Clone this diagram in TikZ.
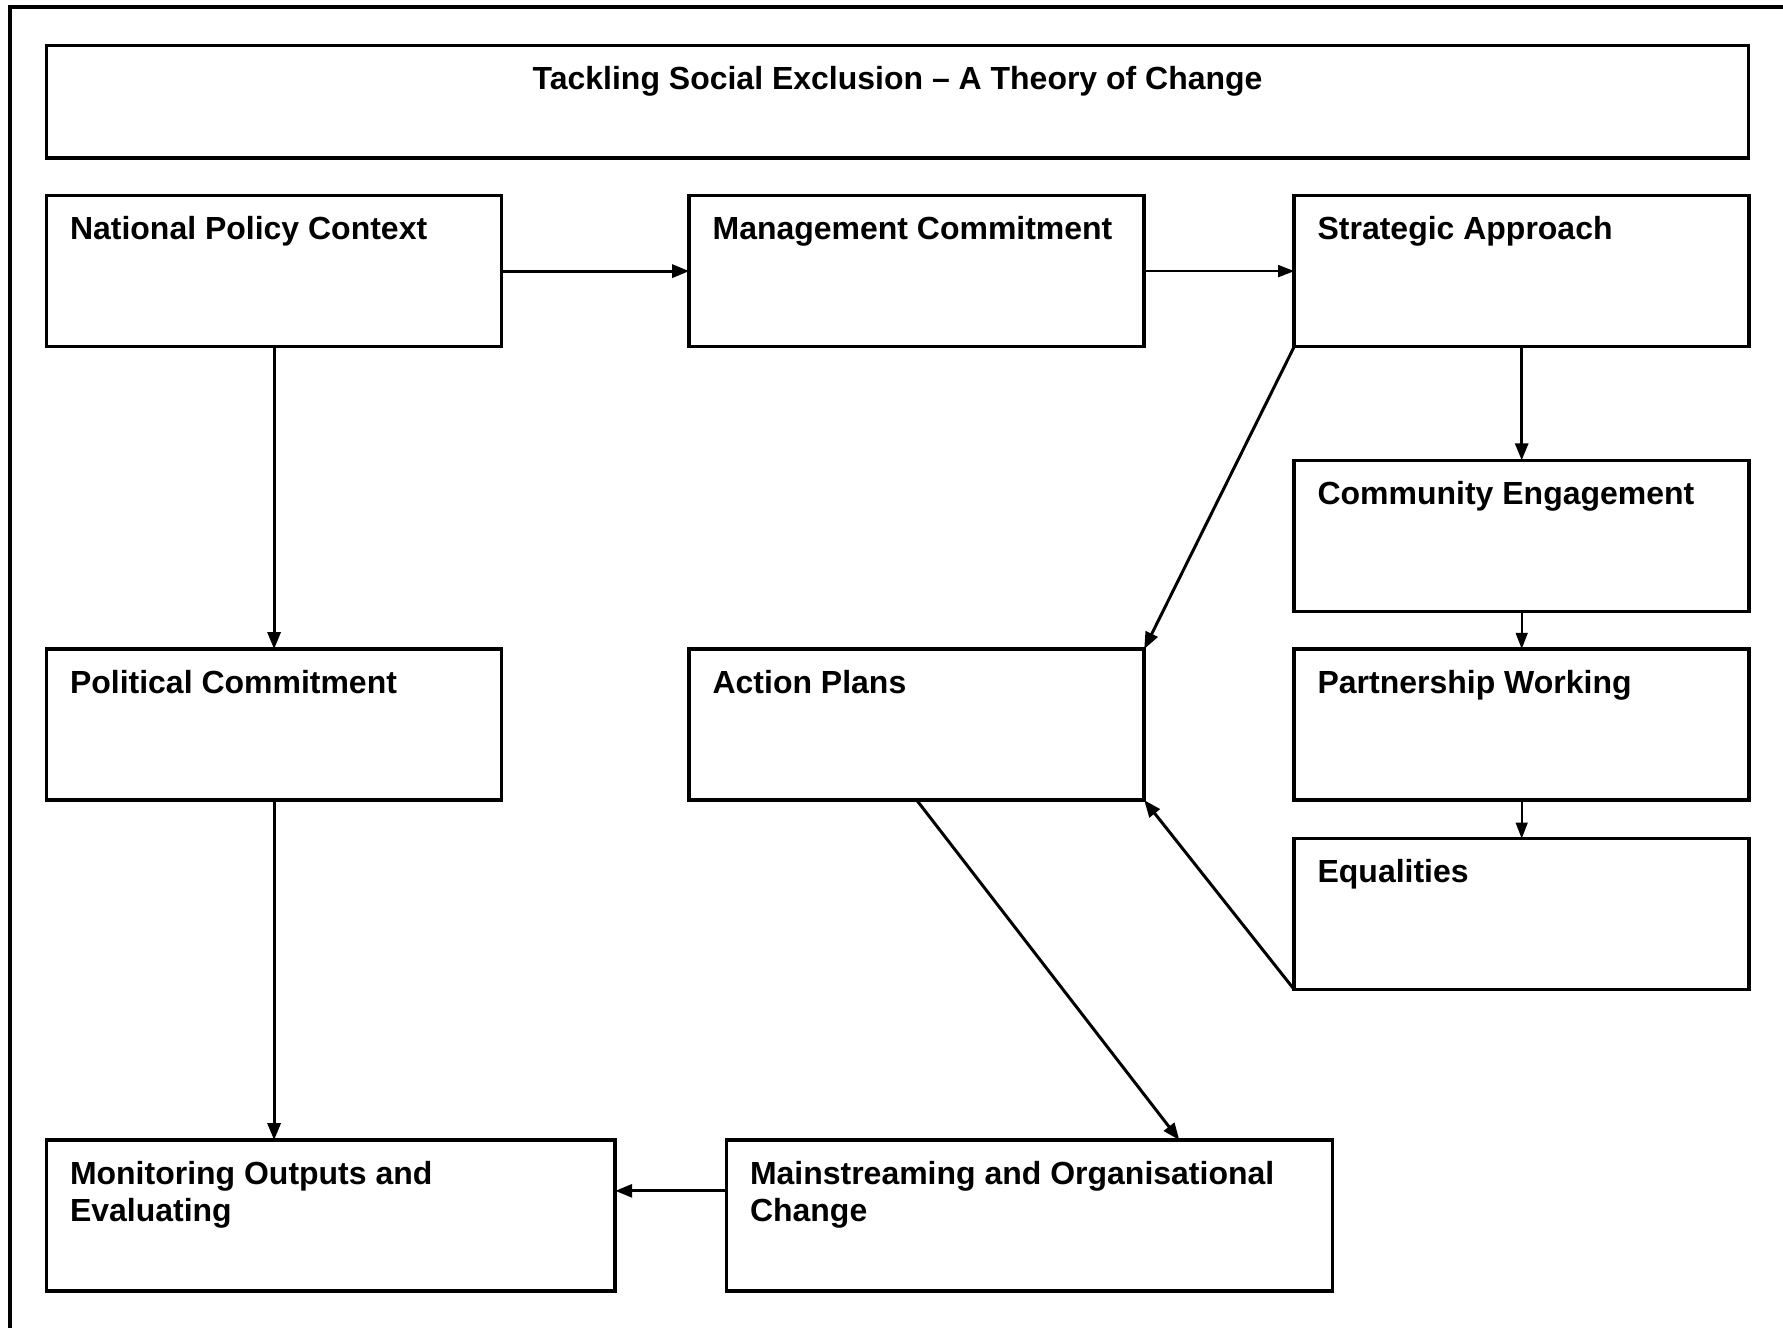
\documentclass[tikz,border=0pt]{standalone}
\usepackage{fontspec}
\setmainfont{Liberation Sans}
\usetikzlibrary{arrows.meta,calc,positioning}

\begin{document}
\begin{tikzpicture}[
    font=\fontsize{9.1}{10.4}\selectfont\bfseries,
    stage/.style={draw,line width=1pt,minimum width=4.55cm,minimum height=1.51cm,inner sep=0pt,outer sep=0pt},
    caption/.style={anchor=north west,inner sep=0pt,align=left},
    link/.style={-{Triangle[length=1.7mm,width=1.3mm]},line width=0.85pt},
    thinlink/.style={-{Triangle[length=1.6mm,width=1.2mm]},line width=0.45pt}
  ]
    \useasboundingbox (0,0) rectangle (17.83,-13.27);
    % outer frame: only its top and left edges lie on the page
    \draw[line width=1.15pt] (0.10,-13.6) |- (18.2,-0.07);

    \node[stage,anchor=north west,minimum width=17.02cm,minimum height=1.126cm] (title) at (0.466,-0.455) {};
    \node[anchor=north,inner sep=0pt] (title-t) at ([yshift=-0.205cm]title.north)
      {Tackling Social Exclusion -- A Theory of Change};

    \node[stage,below=0.375cm of title.south west,anchor=north west] (npc) {};
    \node[stage,right=1.876cm of npc] (mc) {};
    \node[stage,right=1.50cm of mc] (sa) {};
    \node[stage,below=1.137cm of sa] (ce) {};
    \node[stage,below=0.375cm of ce] (pw) {};
    \node[stage,below=0.387cm of pw] (eq) {};
    \node[stage,below=3.025cm of npc] (pc) {};
    \node[stage,right=1.876cm of pc] (ap) {};
    \node[stage,minimum width=5.686cm,below=3.40cm of pc.south west,anchor=north west] (mon) {};
    \node[stage,minimum width=6.061cm,right=1.114cm of mon] (ms) {};

    \node[caption] (npc-t) at ([shift={(0.227,-0.205)}]npc.north west) {National Policy Context};
    \node[caption] (mc-t) at ([shift={(0.227,-0.205)}]mc.north west) {Management Commitment};
    \node[caption] (sa-t) at ([shift={(0.227,-0.205)}]sa.north west) {Strategic Approach};
    \node[caption] (ce-t) at ([shift={(0.227,-0.205)}]ce.north west) {Community Engagement};
    \node[caption] (pw-t) at ([shift={(0.227,-0.205)}]pw.north west) {Partnership Working};
    \node[caption] (eq-t) at ([shift={(0.227,-0.205)}]eq.north west) {Equalities};
    \node[caption] (pc-t) at ([shift={(0.227,-0.205)}]pc.north west) {Political Commitment};
    \node[caption] (ap-t) at ([shift={(0.227,-0.205)}]ap.north west) {Action Plans};
    \node[caption] (mon-t) at ([shift={(0.227,-0.205)}]mon.north west) {Monitoring Outputs and\\Evaluating};
    \node[caption] (ms-t) at ([shift={(0.227,-0.205)}]ms.north west) {Mainstreaming and Organisational\\Change};

    \coordinate (ms-in) at ($(ms.north west)!0.747!(ms.north east)$);
    \coordinate (ms-out) at ($(ms.north west)!0.336!(ms.south west)$);

    \draw[link] (npc) -- (mc);
    \draw[thinlink] (mc) -- (sa);
    \draw[link] (npc) -- (pc);
    \draw[link] (sa) -- (ce);
    \draw[thinlink] (ce) -- (pw);
    \draw[thinlink] (pw) -- (eq);
    \draw[link] (sa.south west) -- (ap.north east);
    \draw[link] (eq.south west) -- (ap.south east);
    \draw[link] (ap.south) -- (ms-in);
    \draw[link] (ms-out) -- (ms-out -| mon.east);
    \draw[link] (pc.south) -- (pc.south |- mon.north);
\end{tikzpicture}
\end{document}
